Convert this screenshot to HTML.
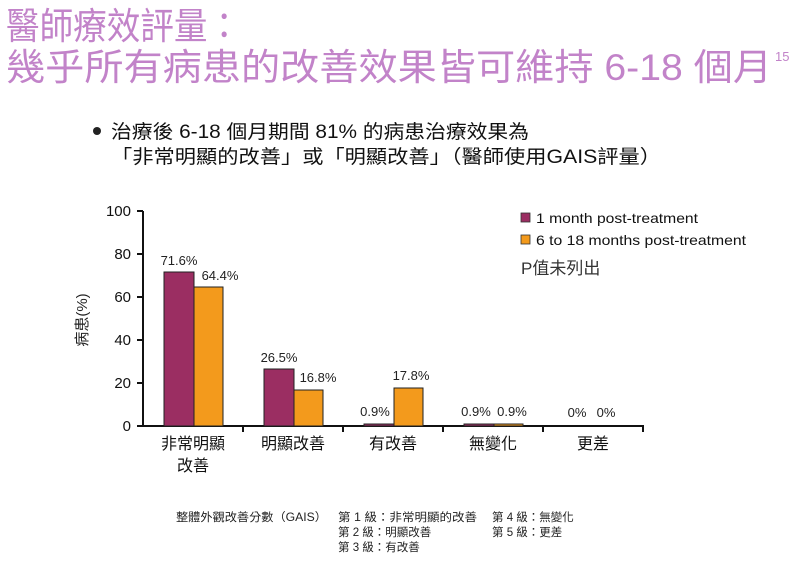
<!DOCTYPE html>
<html><head><meta charset="utf-8"><style>
body{margin:0;width:800px;height:558px;background:#fff;overflow:hidden}
svg text{font-family:"Liberation Sans","Noto Sans CJK TC",sans-serif}
</style></head><body>
<svg width="800" height="558" viewBox="0 0 800 558" xmlns="http://www.w3.org/2000/svg">
<g fill="#c283c9" font-size="37">
<text x="6" y="39" textLength="235" lengthAdjust="spacingAndGlyphs">醫師療效評量：</text>
<text x="6" y="80" textLength="766" lengthAdjust="spacingAndGlyphs">幾乎所有病患的改善效果皆可維持 6-18 個月</text>
<text x="775" y="61" font-size="13">15</text>
</g>
<g fill="#111" font-size="19">
<circle cx="97" cy="131" r="4" fill="#222"/>
<text x="111" y="138" textLength="418" lengthAdjust="spacingAndGlyphs">治療後 6-18 個月期間 81% 的病患治療效果為</text>
<text x="111" y="163" textLength="550" lengthAdjust="spacingAndGlyphs">「非常明顯的改善」或「明顯改善」（醫師使用GAIS評量）</text>
</g>
<g stroke="#111" stroke-width="2" fill="none">
<line x1="143" y1="211" x2="143" y2="427"/>
<line x1="142" y1="426" x2="644" y2="426"/>
<line x1="137" y1="211" x2="143" y2="211"/>
<line x1="137" y1="254" x2="143" y2="254"/>
<line x1="137" y1="297" x2="143" y2="297"/>
<line x1="137" y1="340" x2="143" y2="340"/>
<line x1="137" y1="383" x2="143" y2="383"/>
<line x1="137" y1="426" x2="143" y2="426"/>
<line x1="243" y1="426" x2="243" y2="432"/>
<line x1="343" y1="426" x2="343" y2="432"/>
<line x1="443" y1="426" x2="443" y2="432"/>
<line x1="543" y1="426" x2="543" y2="432"/>
<line x1="643" y1="426" x2="643" y2="432"/>
</g>
<g font-size="15" fill="#111" text-anchor="end">
<text x="131" y="216">100</text><text x="131" y="259">80</text><text x="131" y="302">60</text>
<text x="131" y="345">40</text><text x="131" y="388">20</text><text x="131" y="431">0</text>
</g>
<text transform="translate(87,320) rotate(-90)" font-size="15" fill="#222" text-anchor="middle">病患(%)</text>
<g stroke="#222" stroke-width="1">
<rect x="164" y="272" width="30" height="154" fill="#9b2e62"/>
<rect x="194" y="287" width="29" height="139" fill="#f39a1c"/>
<rect x="264" y="369" width="30" height="57" fill="#9b2e62"/>
<rect x="294" y="390" width="29" height="36" fill="#f39a1c"/>
<rect x="364" y="424" width="30" height="2" fill="#9b2e62"/>
<rect x="394" y="388" width="29" height="38" fill="#f39a1c"/>
<rect x="464" y="424" width="30" height="2" fill="#9b2e62"/>
<rect x="494" y="424" width="29" height="2" fill="#f39a1c"/>
</g>
<g font-size="13" fill="#222" text-anchor="middle">
<text x="179" y="265">71.6%</text><text x="220" y="280">64.4%</text>
<text x="279" y="362">26.5%</text><text x="318" y="382">16.8%</text>
<text x="375" y="416">0.9%</text><text x="411" y="380">17.8%</text>
<text x="476" y="416">0.9%</text><text x="512" y="416">0.9%</text>
<text x="577" y="417">0%</text><text x="606" y="417">0%</text>
</g>
<g font-size="16" fill="#111" text-anchor="middle">
<text x="193" y="449">非常明顯</text><text x="193" y="471">改善</text>
<text x="293" y="449">明顯改善</text>
<text x="393" y="449">有改善</text>
<text x="493" y="449">無變化</text>
<text x="593" y="449">更差</text>
</g>
<rect x="521" y="213" width="9" height="9" fill="#9b2e62" stroke="#333" stroke-width="0.8"/>
<rect x="521" y="235" width="9" height="9" fill="#f39a1c" stroke="#333" stroke-width="0.8"/>
<g font-size="14" fill="#111">
<text x="536" y="223" textLength="162" lengthAdjust="spacingAndGlyphs">1 month post-treatment</text>
<text x="536" y="245" textLength="210" lengthAdjust="spacingAndGlyphs">6 to 18 months post-treatment</text>
<text x="521" y="274" font-size="17" fill="#333">P值未列出</text>
</g>
<g font-size="11.5" fill="#222">
<text x="176" y="521" textLength="151" lengthAdjust="spacingAndGlyphs">整體外觀改善分數（GAIS）</text>
<text x="338" y="521" textLength="139" lengthAdjust="spacingAndGlyphs">第 1 級：非常明顯的改善</text>
<text x="338" y="536">第 2 級：明顯改善</text>
<text x="338" y="551">第 3 級：有改善</text>
<text x="492" y="521">第 4 級：無變化</text>
<text x="492" y="536">第 5 級：更差</text>
</g>
</svg>
</body></html>
